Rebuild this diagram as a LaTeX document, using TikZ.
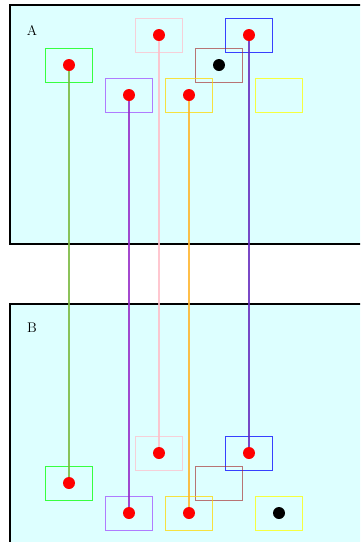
\documentclass[tikz,border=0pt]{standalone}
\definecolor{bgc}{RGB}{221,255,255}
\definecolor{cgreen}{RGB}{0,255,0}
\definecolor{cpink}{RGB}{255,192,203}
\definecolor{cblue}{RGB}{0,0,255}
\definecolor{cbrown}{RGB}{165,42,42}
\definecolor{cviolet}{RGB}{160,80,255}
\definecolor{cgold}{RGB}{255,215,0}
\definecolor{cyell}{RGB}{255,255,0}
\definecolor{lgreen}{RGB}{120,185,60}
\definecolor{lviolet}{RGB}{150,40,200}
\definecolor{lpink}{RGB}{255,190,200}
\definecolor{lorange}{RGB}{255,180,40}
\definecolor{lindigo}{RGB}{100,40,190}
\definecolor{cred}{RGB}{255,0,0}
\begin{document}
\begin{tikzpicture}[x=1pt,y=-1pt,
  panel/.style={draw=black,line width=2pt,fill=bgc},
  cell/.style={draw,line width=1pt,draw opacity=0.75,minimum width=47pt,minimum height=34pt,inner sep=0pt,outer sep=0pt},
  reddot/.style={circle,fill=cred,minimum size=12pt,inner sep=0pt},
  blackdot/.style={circle,fill=black,minimum size=12pt,inner sep=0pt},
  conn/.style={line width=1.1pt,draw opacity=0.85},
  lbl/.style={font=\fontsize{14}{16}\selectfont,inner sep=0pt}]
\useasboundingbox (0,0) rectangle (360,542);
\clip (0,0) rectangle (360,542);
\fill[white] (0,0) rectangle (360,542);
% panels
\draw[panel] (10,5) rectangle (372,244);
\draw[panel] (10,304) rectangle (372,560);
\node[lbl] (la) at (32,30) {A};
\node[lbl] (lb) at (32,328) {B};
% boxes A
\node[cell,draw=cgreen] (gA) at (69,65) {};
\node[cell,draw=cpink] (pA) at (159,35) {};
\node[cell,draw=cblue] (bA) at (249,35) {};
\node[cell,draw=cbrown,draw opacity=0.65] (rA) at (219,65) {};
\node[cell,draw=cviolet] (vA) at (129,95) {};
\node[cell,draw=cgold] (oA) at (189,95) {};
\node[cell,draw=cyell] (yA) at (279,95) {};
% boxes B
\node[cell,draw=cgreen] (gB) at (69,483) {};
\node[cell,draw=cpink] (pB) at (159,453) {};
\node[cell,draw=cblue] (bB) at (249,453) {};
\node[cell,draw=cbrown,draw opacity=0.65] (rB) at (219,483) {};
\node[cell,draw=cviolet] (vB) at (129,513) {};
\node[cell,draw=cgold] (oB) at (189,513) {};
\node[cell,draw=cyell] (yB) at (279,513) {};
% dots
\node[reddot] (dgA) at (gA) {};
\node[reddot] (dpA) at (pA) {};
\node[reddot] (dbA) at (bA) {};
\node[blackdot] (drA) at (rA) {};
\node[reddot] (dvA) at (vA) {};
\node[reddot] (doA) at (oA) {};
\node[reddot] (dgB) at (gB) {};
\node[reddot] (dpB) at (pB) {};
\node[reddot] (dbB) at (bB) {};
\node[reddot] (dvB) at (vB) {};
\node[reddot] (doB) at (oB) {};
\node[blackdot] (dyB) at (yB) {};
% connectors
\draw[conn,draw=lgreen] (dgA) -- (dgB);
\draw[conn,draw=lviolet] (dvA) -- (dvB);
\draw[conn,draw=lpink] (dpA) -- (dpB);
\draw[conn,draw=lorange] (doA) -- (doB);
\draw[conn,draw=lindigo] (dbA) -- (dbB);
\end{tikzpicture}
\end{document}
